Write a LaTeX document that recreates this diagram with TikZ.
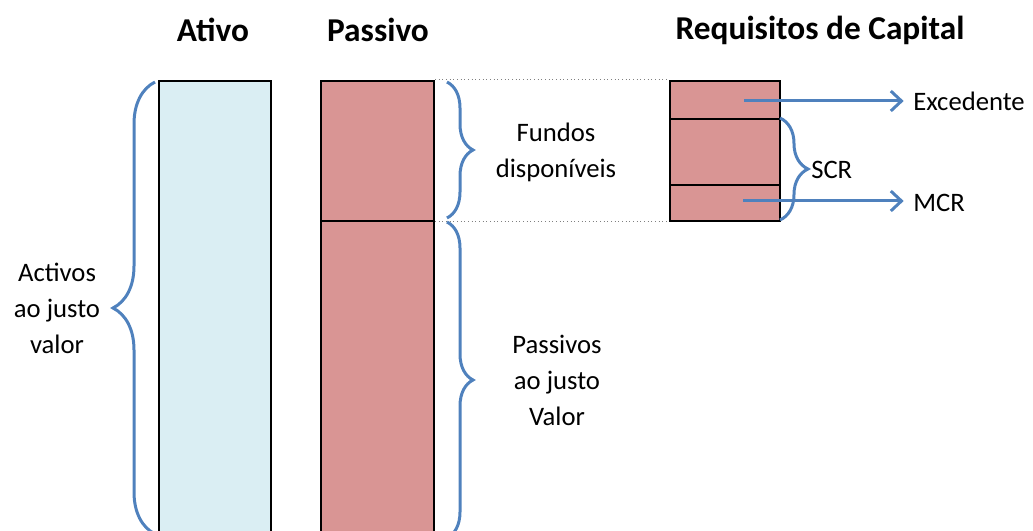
\documentclass[tikz,border=0pt]{standalone}
\usepackage{fontspec}
\setmainfont{Carlito}
\usetikzlibrary{arrows.meta,decorations.pathreplacing}

\definecolor{ativofill}{HTML}{DAEEF3}
\definecolor{passivofill}{HTML}{D99594}
\definecolor{bracecol}{HTML}{4F81BD}

\begin{document}
\begin{tikzpicture}[x=0.75pt,y=0.75pt]
	\tikzstyle{comp} = [
		rectangle, draw=black, line width=1.5pt, inner sep=0pt, anchor=north west
	]
	\tikzstyle{ativobox} = [
		comp, fill=ativofill, minimum width=84pt
	]
	\tikzstyle{passivobox} = [
		comp, fill=passivofill, minimum width=84.75pt
	]
	\tikzstyle{reqbox} = [
		comp, fill=passivofill, minimum width=82.5pt
	]
	\tikzstyle{caption} = [
		font=\fontsize{25}{30}\selectfont\bfseries
	]
	\tikzstyle{label} = [
		font=\fontsize{20}{27}\selectfont, align=center, inner sep=0pt
	]
	\tikzstyle{brc} = [
		draw=bracecol, line width=2.25pt, decorate
	]
	\tikzstyle{conn} = [
		draw=bracecol, line width=2.25pt, -{Straight Barb[length=8pt,width=15pt]}, shorten >=7pt
	]

	% page
	\clip (0,0) rectangle (1033,-531);

	% Titles
	\node (T_ativo) [caption] at (213,-30) {Ativo};
	\node (T_passivo) [caption] at (378,-30) {Passivo};
	\node (T_req) [caption] at (820,-30) {Requisitos de Capital};

	% Ativo
	\node (Ativo) [ativobox, minimum height=360pt] at (158,-80) {};

	% Passivo
	\node (Fundos) [passivobox, minimum height=105pt] at (320,-80) {};
	\node (Passivos) [passivobox, minimum height=255pt] at (320,-220) {};

	% Requisitos de Capital
	\node (Exc) [reqbox, minimum height=28.5pt] at (669,-80) {};
	\node (SCR) [reqbox, minimum height=49.5pt] at (669,-118) {};
	\node (MCR) [reqbox, minimum height=27pt] at (669,-184) {};

	% dotted links
	\draw[gray, dotted, line width=0.75pt] (Fundos.north east) -- (Exc.north west);
	\draw[gray, dotted, line width=0.75pt] (Fundos.south east) -- (MCR.south west);

	% Braces
	\draw[brc, decoration={brace, amplitude=31.5pt}] (155,-534) -- (155,-82);
	\draw[brc, decoration={brace, amplitude=19.5pt}] (447,-82) -- (447,-218);
	\draw[brc, decoration={brace, amplitude=19.5pt}] (447,-222) -- (447,-538);
	\draw[brc, decoration={brace, amplitude=21pt}] (780,-118) -- (780,-220);

	% Labels
	\node (L_ativo) [label] at (57,-308) {Activos\\ao justo\\valor};
	\node (L_fundos) [label] at (556,-152) {Fundos\\disponíveis};
	\node (L_passivos) [label] at (557,-380) {Passivos\\ao justo\\Valor};
	\node (L_scr) [label, anchor=west] at (811,-170) {SCR};
	\node (L_exc) [label, anchor=west] at (913,-101) {Excedente};
	\node (L_mcr) [label, anchor=west] at (913,-203) {MCR};

	% Arrows
	\coordinate (exc_in) at (744,-101);
	\coordinate (mcr_in) at (743,-201);
	\draw[conn] (exc_in) -- (L_exc.west);
	\draw[conn] (mcr_in) -- (L_mcr.west |- mcr_in);
\end{tikzpicture}
\end{document}
